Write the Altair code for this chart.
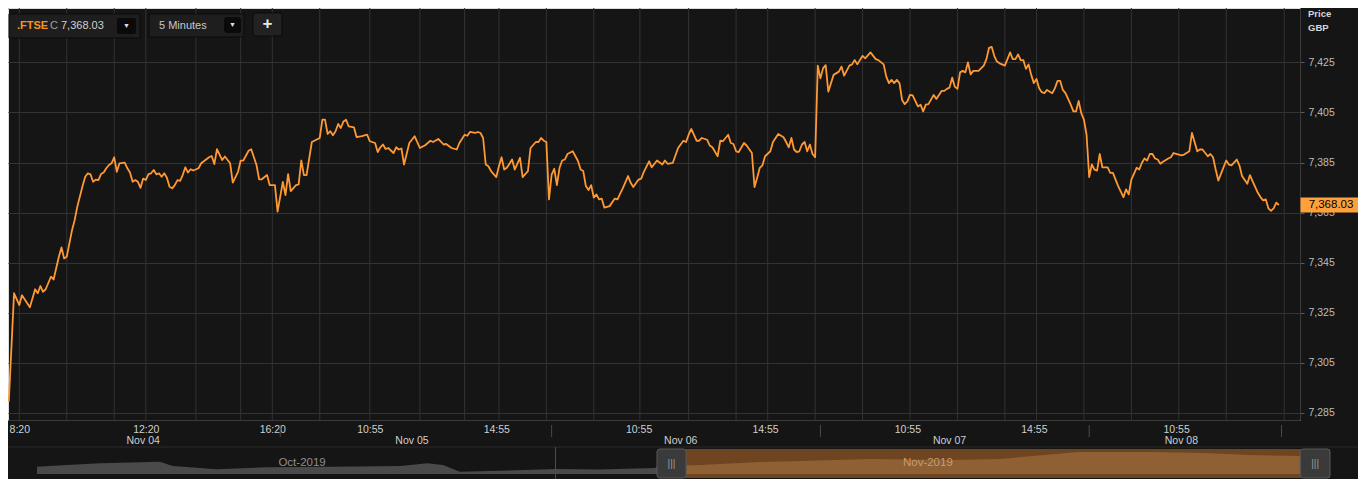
import altair as alt
import pandas as pd

# ---------------- data ----------------
# 5-minute bar number counted from Nov 04 08:00 (102 bars per session)
bars = [0, 2, 4, 5, 8, 10, 11, 12, 13, 14, 16, 17, 19, 20, 21, 22, 24, 25, 26, 28,
        29, 30, 31, 32, 33, 34, 35, 36, 37, 38, 39, 40, 41, 42, 44, 45, 46, 47, 48, 49,
        50, 51, 52, 53, 54, 55, 56, 57, 58, 59, 60, 61, 62, 63, 64, 65, 66, 67, 68, 69,
        70, 72, 73, 76, 77, 78, 79, 81, 82, 84, 85, 87, 88, 89, 91, 92, 94, 95, 96, 98,
        99, 100, 101,
        102, 104, 105, 106, 107, 109, 110, 111, 112, 113, 115, 118, 119, 120, 121, 122,
        123, 124, 125, 126, 127, 128, 129, 131, 132, 134, 136, 137, 139, 140, 141, 142,
        143, 144, 146, 147, 148, 149, 150, 152, 154, 156, 158, 160, 161, 163, 165, 166,
        168, 170, 171, 173, 174, 175, 177, 178, 179, 180, 181, 182, 183, 185, 186, 187,
        188, 189, 191, 192, 194, 195, 197, 198, 200, 201, 202, 203, 204,
        205, 206, 207, 208, 209, 210, 211, 212, 214, 216, 217, 218, 219, 220, 221, 222,
        223, 224, 225, 226, 228, 230, 231, 232, 233, 235, 236, 237, 239, 240, 241, 243,
        244, 246, 248, 249, 250, 252, 254, 256, 257, 258, 259, 261, 262, 263, 265, 266,
        267, 269, 270, 271, 273, 274, 275, 276, 277, 279, 280, 282, 283, 284, 285, 286,
        287, 289, 290, 292, 294, 295, 296, 297, 298, 299, 300, 301, 302, 303, 304, 305, 306,
        307, 308, 309, 310, 311, 313, 315, 316, 317, 319, 320, 321, 322, 324, 325, 327,
        329, 330, 332, 333, 334, 335, 336, 337, 338, 339, 340, 341, 342, 343, 345, 346,
        347, 348, 349, 351, 352, 354, 355, 356, 357, 358, 359, 360, 361, 362, 363, 364,
        365, 366, 368, 370, 371, 372, 373, 374, 375, 376, 378, 380, 381, 382, 383, 384,
        385, 386, 387, 388, 389, 390, 391, 392, 393, 394, 396, 397, 398, 399, 400, 401,
        403, 404, 405, 406, 407, 408,
        409, 410, 411, 412, 413, 414, 415, 417, 418, 419, 421, 423, 424, 425, 426, 428,
        429, 430, 431, 432, 433, 434, 435, 436, 437, 438, 440, 441, 442, 444, 445, 446,
        448, 449, 450, 451, 452, 453, 455, 456, 457, 458, 459, 460, 462, 463, 464, 466,
        467, 468, 470, 471, 472, 474, 475, 476, 477, 478, 479, 480, 481, 482]

prices = [7289.5, 7332.8, 7328.1, 7332.0, 7327.2, 7334.4, 7332.8, 7335.7, 7333.4, 7334.4,
          7339.4, 7338.3, 7347.4, 7351.1, 7346.7, 7347.4, 7358.0, 7362.0, 7367.4, 7375.6,
          7379.3, 7380.7, 7380.3, 7377.3, 7378.2, 7378.0, 7380.4, 7381.0, 7382.7, 7384.0,
          7384.7, 7387.1, 7381.3, 7384.7, 7385.0, 7382.7, 7381.0, 7377.3, 7378.0, 7377.3,
          7374.9, 7378.6, 7378.0, 7380.4, 7380.7, 7382.0, 7380.3, 7380.7, 7379.3, 7380.7,
          7378.9, 7375.3, 7374.7, 7376.0, 7378.0, 7377.7, 7380.0, 7383.1, 7381.0, 7382.3,
          7381.8, 7382.7, 7384.7, 7387.1, 7387.6, 7384.4, 7390.3, 7386.0, 7387.4, 7384.7,
          7377.0, 7381.3, 7385.8, 7385.8, 7389.7, 7390.3, 7384.0, 7378.3, 7378.3, 7380.0,
          7376.0, 7376.0, 7376.0,
          7365.4, 7377.3, 7372.0, 7380.4, 7373.6, 7376.0, 7376.3, 7385.8, 7380.0, 7380.0,
          7393.2, 7394.8, 7402.1, 7402.1, 7396.4, 7397.5, 7395.9, 7397.5, 7400.4, 7398.8,
          7401.4, 7402.1, 7399.4, 7399.0, 7395.1, 7395.5, 7396.1, 7393.5, 7392.8, 7389.2,
          7391.1, 7392.2, 7390.4, 7390.8, 7388.8, 7391.1, 7390.2, 7390.6, 7384.2, 7392.8,
          7395.5, 7390.8, 7391.9, 7393.7, 7393.2, 7394.4, 7392.2, 7392.4, 7390.8, 7390.2,
          7392.8, 7396.1, 7395.7, 7397.2, 7396.8, 7397.2, 7396.8, 7394.8, 7384.2, 7383.5,
          7381.6, 7379.2, 7383.5, 7387.1, 7382.2, 7382.9, 7386.2, 7382.2, 7386.9, 7379.2,
          7381.6, 7390.8, 7393.2, 7393.2, 7394.8, 7393.7, 7393.2,
          7370.3, 7380.2, 7382.5, 7376.0, 7382.9, 7385.8, 7386.2, 7388.4, 7389.5, 7385.6,
          7382.2, 7381.6, 7375.6, 7374.0, 7376.0, 7371.0, 7372.3, 7370.3, 7370.6, 7367.0,
          7367.6, 7370.6, 7370.3, 7372.6, 7374.7, 7379.6, 7376.9, 7375.2, 7378.2, 7378.6,
          7381.3, 7385.5, 7383.1, 7385.8, 7384.2, 7385.8, 7384.5, 7384.9, 7390.8, 7393.7,
          7393.2, 7396.1, 7398.4, 7393.7, 7393.7, 7394.8, 7394.1, 7391.8, 7391.1, 7387.5,
          7393.7, 7393.5, 7396.1, 7392.8, 7392.4, 7389.5, 7389.2, 7392.8, 7391.8, 7388.8,
          7375.2, 7378.9, 7382.9, 7383.9, 7387.5, 7389.5, 7393.2, 7396.4, 7395.1, 7393.2,
          7391.1, 7394.8, 7390.2, 7389.2, 7389.5, 7392.2, 7393.2, 7389.5, 7392.2, 7388.4,
          7387.1,
          7423.7, 7418.6, 7422.6, 7423.9, 7413.3, 7420.0, 7421.3, 7423.3, 7419.7, 7423.7,
          7424.2, 7425.9, 7424.2, 7427.6, 7426.6, 7429.0, 7426.3, 7425.9, 7424.2, 7419.3,
          7416.7, 7418.0, 7416.7, 7418.0, 7416.7, 7410.0, 7408.3, 7409.4, 7412.0, 7411.8,
          7407.4, 7408.1, 7405.4, 7408.1, 7408.3, 7412.0, 7410.4, 7413.6, 7413.6, 7414.4,
          7414.9, 7418.9, 7415.3, 7414.4, 7421.0, 7421.6, 7421.0, 7425.0, 7420.2, 7421.6,
          7421.6, 7423.7, 7426.3, 7430.8, 7431.2, 7427.5, 7425.3, 7424.6, 7423.7, 7429.0,
          7426.3, 7426.3, 7428.2, 7425.9, 7425.9, 7422.4, 7424.2, 7420.0, 7416.7, 7418.4,
          7414.7, 7413.1, 7412.7, 7414.0, 7412.7, 7414.7, 7417.6, 7417.6, 7414.0, 7412.7,
          7408.1, 7405.4, 7405.4, 7409.6, 7404.7, 7402.1,
          7396.1, 7379.2, 7384.2, 7382.2, 7381.8, 7388.4, 7383.1, 7383.1, 7380.9, 7380.9,
          7375.6, 7371.2, 7374.3, 7372.3, 7378.2, 7382.9, 7382.2, 7384.9, 7386.6, 7385.8,
          7388.4, 7388.4, 7386.6, 7386.2, 7384.5, 7385.3, 7386.6, 7387.1, 7388.8, 7388.2,
          7387.9, 7388.2, 7389.5, 7396.8, 7393.2, 7389.5, 7390.2, 7390.2, 7387.5, 7388.4,
          7387.1, 7382.2, 7377.8, 7380.5, 7385.8, 7384.2, 7383.9, 7386.2, 7383.9, 7379.6,
          7376.5, 7380.0, 7377.6, 7372.9, 7371.2, 7369.9, 7370.3, 7366.7, 7365.7, 7366.7,
          7369.0, 7368.03]

last_price = 7368.03
symbol = ".FTSE"
interval = "5 Minutes"

tick_bars = [4, 52, 100, 137, 185, 239, 287, 341, 389, 443]
tick_labels = ["8:20", "12:20", "16:20", "10:55", "14:55", "10:55", "14:55", "10:55", "14:55", "10:55"]
date_bars = [51, 153, 255, 357, 445]
date_labels = ["Nov 04", "Nov 05", "Nov 06", "Nov 07", "Nov 08"]
grid_bars = [4, 22, 40, 52, 71, 88, 100, 118, 137, 156, 173, 186, 204, 222, 239.5, 258, 276,
             288, 306, 324, 342, 360, 378, 390, 408, 426, 444, 462, 484]
session_bars = [103, 206, 308, 410, 483]
y_ticks = [7285, 7305, 7325, 7345, 7365, 7385, 7405, 7425]

# navigator (mini history strip)
nav_pos = [0, 2.3, 4.9, 9.5, 10.5, 13.9, 17.8, 22.9, 28.1, 30.2, 31.4, 32.7, 35.8, 40.1,
           43.5, 47.8, 48, 51.3, 55.9, 59, 64.4, 70.6, 74.5, 80.5, 86.1, 90.3, 93.8, 97.7, 100]
nav_level = [7.3, 9, 10.7, 12.3, 8, 4.7, 6.7, 7.3, 8, 10.7, 9, 2.3, 3.3, 5, 4.5, 6,
             8, 9, 12, 13, 15, 14, 15, 22, 22, 21, 19, 18, 18]
window = [48, 100]
month_pos = [20.5, 68.9]
month_labels = ["Oct-2019", "Nov-2019"]
month_break = 40.1

# ---------------- styling / layout ----------------
FONT = "Liberation Sans"
W, H = 1292, 412
ORANGE = "#ff9933"
GRID = "#333333"

x_scale = alt.Scale(domain=[-0.3, 490], nice=False, zero=False)
y_scale = alt.Scale(domain=[7282.2, 7446.7], nice=False, zero=False)

label_expr = ("[" + ",".join("'%s'" % t for t in tick_labels) + "][indexof(["
              + ",".join(str(b) for b in tick_bars) + "], datum.value)]")

x_axis = alt.Axis(values=tick_bars, labelExpr=label_expr, title=None, grid=False,
                  ticks=False, tickSize=0, labelPadding=4, domain=True,
                  domainColor="#3a3a3a", labelColor="#cfcfcf", labelFontSize=10.5,
                  labelFont=FONT, labelOverlap=False, labelFlush=False)
y_axis = alt.Axis(orient="right", values=y_ticks, format=",d", title=None, grid=True,
                  gridColor=GRID, tickColor="#5a5a5a", tickSize=4, labelPadding=4,
                  domain=True, domainColor="#3a3a3a", labelColor="#bdbdbd",
                  labelFontSize=10.5, labelFont=FONT)


def X(field="bar:Q"):
    return alt.X(field, scale=x_scale, axis=x_axis)


def Y(field="price:Q"):
    return alt.Y(field, scale=y_scale, axis=y_axis)


one = pd.DataFrame({"k": [0]})


def box(x1, y1, x2, y2, fill, stroke=None, radius=0):
    kw = dict(fill=fill, cornerRadius=radius)
    if stroke:
        kw.update(stroke=stroke, strokeWidth=1)
    return alt.Chart(one).mark_rect(**kw).encode(
        x=alt.value(x1), x2=alt.value(x2), y=alt.value(y1), y2=alt.value(y2))


def label(x, y, s, color, size=11, weight="normal", align="left"):
    return alt.Chart(one).mark_text(text=s, color=color, fontSize=size, fontWeight=weight,
                                    align=align, baseline="middle", font=FONT).encode(
        x=alt.value(x), y=alt.value(y))


price_df = pd.DataFrame({"bar": bars, "price": prices})

vgrid = alt.Chart(pd.DataFrame({"bar": grid_bars})).mark_rule(
    color=GRID, strokeWidth=1).encode(x=X())
line = alt.Chart(price_df).mark_line(
    color=ORANGE, strokeWidth=1.8, strokeJoin="round").encode(x=X(), y=Y())
sessions = alt.Chart(pd.DataFrame({"bar": session_bars})).mark_rule(
    color="#4a4a4a", strokeWidth=1).encode(x=X(), y=alt.value(417), y2=alt.value(429))
dates = alt.Chart(pd.DataFrame({"bar": date_bars, "d": date_labels})).mark_text(
    color="#cfcfcf", fontSize=10.5, font=FONT, baseline="middle").encode(
    x=X(), y=alt.value(433), text="d:N")

last_df = pd.DataFrame({"price": [last_price]})
badge = alt.Chart(last_df).mark_point(
    shape="M-1,-0.246L1,-0.246L1,0.246L-1,0.246Z", size=61 * 61, filled=True,
    fill="#ffa03a", opacity=1, strokeWidth=0).encode(x=alt.value(1323), y=Y())
badge_txt = alt.Chart(last_df).mark_text(
    color="#000000", fontSize=11.5, font=FONT, baseline="middle").encode(
    x=alt.value(1323), y=Y(), text=alt.Text("price:Q", format=",.2f"))

header = [
    box(1, 6, 132, 30, "#1e1e1e", "#0b0b0b"),
    box(109, 10, 128, 26, "#0a0a0a", radius=2),
    label(118.5, 18, "▼", "#e0e0e0", 7, align="center"),
    label(9, 18, symbol, "#f7941d", 11, "bold"),
    label(42, 18, "C", "#a0a0a0", 11),
    label(53, 18, f"{last_price:,.2f}", "#d0d0d0", 11),
    box(141, 6, 236, 29, "#1e1e1e", "#0b0b0b"),
    label(151, 17.5, interval, "#c8c8c8", 11),
    box(216, 9, 233, 25, "#0a0a0a", radius=3),
    label(224.5, 17, "▼", "#e0e0e0", 7, align="center"),
    box(245, 5, 274, 28, "#222222", "#0b0b0b", radius=3),
    label(259.5, 16, "+", "#e8e8e8", 17, "bold", align="center"),
    label(1300, 6, "Price", "#d8d8d8", 9.5, "bold"),
    label(1300, 20, "GBP", "#d8d8d8", 9.5, "bold"),
]

main = alt.layer(vgrid, line, sessions, dates, badge, badge_txt, *header)

# ---------------- navigator ----------------
nav_x = alt.Scale(domain=[0, 100], range=[29, 1322], nice=False, zero=False)
nav_y = alt.Scale(domain=[0, 25], range=[466, 441], nice=False, zero=True)


def NX(field):
    return alt.X(field, scale=nav_x, axis=None)


def NY(field):
    return alt.Y(field, scale=nav_y, axis=None)


nav_df = pd.DataFrame({"pos": nav_pos, "level": nav_level})
win_df = pd.DataFrame({"a": [window[0]], "b": [window[1]]})

nav_border = alt.Chart(one).mark_rule(color="#2a2a2a").encode(
    x=alt.value(0), x2=alt.value(1350), y=alt.value(439))
nav_window = alt.Chart(win_df).mark_rect(fill="#6e4520").encode(
    x=NX("a:Q"), x2="b:Q", y=alt.value(441), y2=alt.value(470))
oct_area = alt.Chart(nav_df[nav_df.pos <= window[0]]).mark_area(
    fill="#4a4a4a").encode(x=NX("pos:Q"), y=NY("level:Q"))
nov_area = alt.Chart(nav_df[nav_df.pos >= window[0]]).mark_area(
    fill="#8e6034").encode(x=NX("pos:Q"), y=NY("level:Q"))
divider = alt.Chart(pd.DataFrame({"pos": [month_break]})).mark_rule(
    color="#4d4d4d").encode(x=NX("pos:Q"), y=alt.value(439), y2=alt.value(471))
months = alt.Chart(pd.DataFrame({"pos": month_pos, "m": month_labels,
                                 "c": ["#8f8f8f", "#c79d6e"]})).mark_text(
    fontSize=11.5, font=FONT, baseline="middle").encode(
    x=NX("pos:Q"), y=alt.value(455), text="m:N",
    color=alt.Color("c:N", scale=None))
handle_df = pd.DataFrame({"a": [47.95, 97.7], "b": [50.2, 100.0],
                          "mid": [49.07, 98.85]})
handles = alt.Chart(handle_df).mark_rect(
    fill="#3a3a3a", stroke="#5a5a5a", strokeWidth=1, cornerRadius=3).encode(
    x=NX("a:Q"), x2="b:Q", y=alt.value(441), y2=alt.value(470))
grips = alt.Chart(handle_df).mark_text(
    text="|||", color="#9a9a9a", fontSize=10, font=FONT, baseline="middle").encode(
    x=NX("mid:Q"), y=alt.value(455.5))

nav = alt.layer(nav_border, nav_window, oct_area, nov_area, divider, months, handles, grips)

chart = alt.layer(main, nav).resolve_scale(
    x="independent", y="independent"
).properties(
    width=W, height=H,
    padding={"left": 0, "top": 0, "right": 58, "bottom": 59},
    autosize=alt.AutoSizeParams(type="none"),
    background="#151515",
).configure_view(
    stroke=None, fill="#1c1c1c"
).configure(font=FONT)

chart.save("out.html", embed_options={"renderer": "svg", "actions": False})
